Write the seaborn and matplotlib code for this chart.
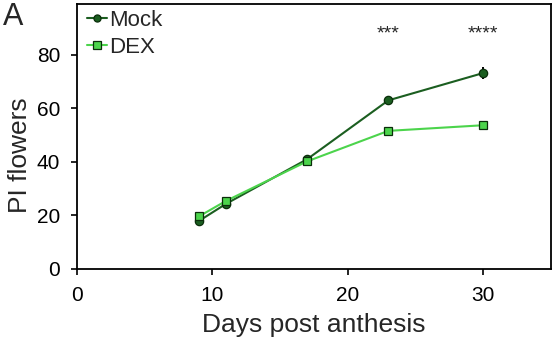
import pandas as pd
import matplotlib
matplotlib.use("Agg")
import matplotlib.pyplot as plt
import seaborn as sns

sns.set_style("ticks")
plt.rcParams["font.family"] = ["Liberation Sans", "DejaVu Sans"]

# Data
days = [9, 11, 17, 23, 30]
mock = [17.9, 24.3, 41.0, 63.0, 73.2]
mock_err = [1.0, 1.0, 1.0, 1.8, 2.2]
dex = [19.6, 25.4, 40.2, 51.6, 53.7]
dex_err = [1.0, 1.0, 1.0, 1.6, 1.5]
stars_x = [23, 30]
stars_txt = ["***", "****"]

mock_col = "#1b5e20"
dex_col = "#4cd44c"

df = pd.DataFrame({
    "day": days * 2,
    "value": mock + dex,
    "group": ["Mock"] * len(days) + ["DEX"] * len(days),
})

fig = plt.figure(figsize=(5.58, 3.37), dpi=100)
ax = fig.add_axes([0.138, 0.202, 0.849, 0.786])

ax.errorbar(days, mock, yerr=mock_err, fmt="none", ecolor="black", elinewidth=1.4, capsize=0, zorder=2)
ax.errorbar(days, dex, yerr=dex_err, fmt="none", ecolor="black", elinewidth=1.4, capsize=0, zorder=2)

sns.lineplot(data=df, x="day", y="value", hue="group", style="group",
             palette={"Mock": mock_col, "DEX": dex_col},
             markers={"Mock": "o", "DEX": "s"}, dashes=False,
             markersize=6, linewidth=1.5, markeredgecolor="#0a2e0a",
             markeredgewidth=0.9, ax=ax, zorder=3)

for x, t in zip(stars_x, stars_txt):
    ax.text(x, 88, t, ha="center", va="center", fontsize=14)

ax.set_xlim(0, 35)
ax.set_ylim(0, 99)
ax.set_xticks([0, 10, 20, 30])
ax.set_yticks([0, 20, 40, 60, 80])
ax.tick_params(axis="both", labelsize=15, direction="out", length=4, width=1.2,
               colors="black", pad=8)
for s in ax.spines.values():
    s.set_linewidth(1.3)
    s.set_color("black")

ax.set_xlabel("Days post anthesis", fontsize=19)
ax.set_ylabel("PI flowers", fontsize=19)
ax.xaxis.set_label_coords(0.5, -0.165)
ax.yaxis.set_label_coords(-0.095, 0.43)

leg = ax.legend(loc="upper left", frameon=False, fontsize=16, handlelength=0.9,
                handletextpad=0.1, borderaxespad=0.15, labelspacing=0.3,
                borderpad=0.1, markerscale=0.85, bbox_to_anchor=(0.01, 1.0))
leg.set_title(None)

fig.text(0.005, 0.995, "A", fontsize=22, ha="left", va="top")

fig.savefig("out.png", dpi=100)
